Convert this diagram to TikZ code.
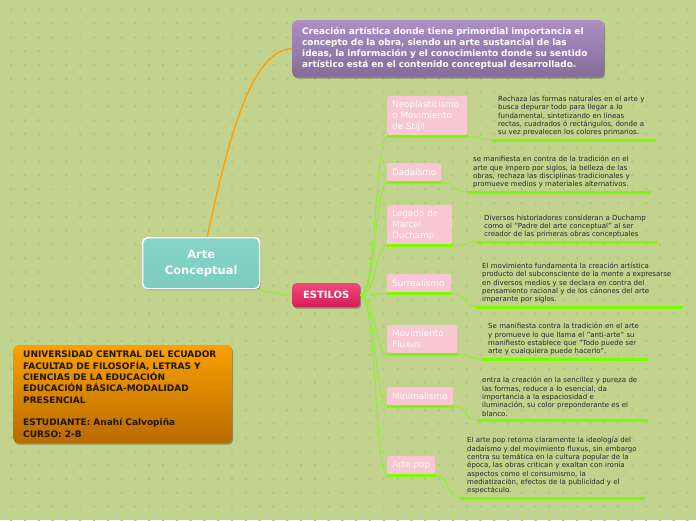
\documentclass[tikz,border=0pt]{standalone}
\usepackage{fontspec}
\setmainfont{DejaVu Sans}
\usetikzlibrary{shadows}
\definecolor{bg}{RGB}{194,211,142}
\definecolor{dotc}{RGB}{178,197,126}
\definecolor{pinkbox}{RGB}{249,198,211}
\definecolor{linegreen}{RGB}{124,250,0}
\definecolor{conngreen}{RGB}{140,240,50}
\definecolor{desctext}{RGB}{40,40,40}
\definecolor{purtop}{RGB}{172,143,198}
\definecolor{purbot}{RGB}{132,108,152}
\definecolor{esttop}{RGB}{238,74,124}
\definecolor{estbot}{RGB}{212,28,88}
\definecolor{teal}{RGB}{124,204,192}
\definecolor{tealtop}{RGB}{132,212,200}
\definecolor{ortop}{RGB}{250,160,0}
\definecolor{orbot}{RGB}{184,106,0}
\definecolor{orline}{RGB}{255,160,0}
\definecolor{ortext}{RGB}{30,20,0}
\begin{document}
\begin{tikzpicture}[x=1pt,y=-1pt,
  shadowed/.style={drop shadow={shadow xshift=1pt,shadow yshift=-1.5pt,opacity=0.3,fill=black}},
  stylebox/.style={fill=pinkbox,text=white,font=\fontsize{8.8}{11}\selectfont,align=left,anchor=north west,inner xsep=5pt,inner ysep=0pt,rounded corners=1.5pt},
  descbox/.style={text=desctext,font=\fontsize{7}{8.3}\selectfont,align=left,anchor=south west,inner ysep=3.6pt},
  uline/.style={draw=linegreen,line width=3pt},
  conn/.style={draw=conngreen,line width=0.9pt}]
\fill[bg] (0,0) rectangle (696,520);
\useasboundingbox (0,0) rectangle (696,520);
\foreach \i in {0,...,50}{\foreach \j in {0,...,37}{\fill[dotc] (11.2+\i*13.8,9.8+\j*13.8) circle (1.3pt);}}

% main boxes
\node[shadowed,anchor=north west,minimum height=57pt,text width=292pt,inner xsep=10pt,inner ysep=0pt,
  rounded corners=5pt,top color=purtop,bottom color=purbot,text=white,align=left,
  font=\bfseries\fontsize{8.9}{11}\selectfont] (pur) at (292,20)
  {Creación artística donde tiene primordial importancia el\\concepto de la obra, siendo un arte sustancial de las\\ideas, la información y el conocimiento donde su sentido\\artístico está en el contenido conceptual desarrollado.};

\node[shadowed,anchor=north west,minimum width=117pt,minimum height=51pt,inner sep=0pt,
  rounded corners=5pt,top color=tealtop,bottom color=teal,draw=white,line width=1.4pt,text=white,align=center,
  font=\bfseries\fontsize{11.5}{16}\selectfont] (ac) at (142,237) {Arte\\Conceptual};

\node[shadowed,anchor=north west,minimum width=68pt,minimum height=24pt,inner sep=0pt,
  rounded corners=4pt,top color=esttop,bottom color=estbot,text=white,
  font=\bfseries\fontsize{10}{12}\selectfont] (est) at (292,283) {ESTILOS};

\node[shadowed,anchor=north west,minimum height=98pt,text width=199pt,inner xsep=10pt,inner ysep=0pt,
  rounded corners=5pt,top color=ortop,bottom color=orbot,text=ortext,align=left,
  font=\bfseries\fontsize{9}{11.3}\selectfont] (uce) at (13,345)
  {UNIVERSIDAD CENTRAL DEL ECUADOR\\FACULTAD DE FILOSOFÍA, LETRAS Y\\CIENCIAS DE LA EDUCACIÓN\\EDUCACIÓN BÁSICA-MODALIDAD\\PRESENCIAL\\[11.3pt]ESTUDIANTE: Anahí Calvopiña\\CURSO: 2-B};

% main connectors
\draw[orline,line width=1.4pt] ([xshift=6pt]ac.north) .. controls (232,120) and (255,50) .. (pur.west);
\draw[conn] ([xshift=-4pt]ac.south east) .. controls (272,292) and (280,295) .. (est.west);

% style nodes
\node[stylebox,text width=70pt,minimum height=39pt] (s1) at (387,96) {Neoplasticismo\\o Movimiento\\de Stijil};
\node[stylebox,text width=44pt,minimum height=18pt] (s2) at (387,163) {Dadaísmo};
\node[stylebox,text width=55pt,minimum height=39pt] (s3) at (387,205) {Legado de\\Marcel\\Duchamp};
\node[stylebox,text width=54pt,minimum height=18pt] (s4) at (387,274) {Surrealismo};
\node[stylebox,text width=60pt,minimum height=28pt] (s5) at (387,325) {Movimiento\\Fluxus};
\node[stylebox,text width=56pt,minimum height=18pt] (s6) at (387,387) {Minimalismo};
\node[stylebox,text width=38pt,minimum height=18pt] (s7) at (387,456) {Arte pop};

\foreach \s in {s1,s2,s3,s4,s5,s6,s7}{
  \coordinate (\s l) at ([yshift=-1.2pt]\s.south west);
  \coordinate (\s r) at ([yshift=-1.2pt,xshift=1pt]\s.south east);
  \draw[uline] (\s l) -- (\s r);
  \draw[conn] (est.east) .. controls +(16,0) and ([xshift=-12pt]\s l) .. (\s l);
}

% descriptions
\node[descbox,inner xsep=6pt,text width=152pt] (d1) at (492,140)
  {Rechaza las formas naturales en el arte y\\busca depurar todo para llegar a lo\\fundamental, sintetizando en líneas\\rectas, cuadrados ó rectángulos, donde a\\su vez prevalecen los colores primarios.};
\node[descbox,inner xsep=6pt,text width=172pt] (d2) at (467,192)
  {se manifiesta en contra de la tradición en el\\arte que impero por siglos, la belleza de las\\obras, rechaza las disciplinas tradicionales y\\promueve medios y materiales alternativos.};
\node[descbox,inner xsep=7pt,text width=166pt] (d3) at (477,242)
  {Diversos historiadores consideran a Duchamp\\como el "Padre del arte conceptual" al ser\\creador de las primeras obras conceptuales};
\node[descbox,inner xsep=6pt,text width=195pt] (d4) at (476,307)
  {El movimiento fundamenta la creación artística\\producto del subconsciente de la mente a expresarse\\en diversos medios y se declara en contra del\\pensamiento racional y de los cánones del arte\\imperante por siglos.};
\node[descbox,inner xsep=7pt,text width=153pt] (d5) at (481,359)
  {Se manifiesta contra la tradición en el arte\\y promueve lo que llama el "anti-arte" su\\manifiesto establece que "Todo puede ser\\arte y cualquiera puede hacerlo".};
\node[descbox,inner xsep=5pt,text width=161pt] (d6) at (477,420)
  {entra la creación en la sencillez y pureza de\\las formas, reduce a lo esencial, da\\importancia a la espaciosidad e\\iluminación, su color preponderante es el\\blanco.};
\node[descbox,inner xsep=7pt,text width=171pt] (d7) at (460,498)
  {El arte pop retoma claramente la ideología del\\dadaísmo y del movimiento fluxus, sin embargo\\centra su temática en la cultura popular de la\\época, las obras critican y exaltan con ironía\\aspectos como el consumismo, la\\mediatización, efectos de la publicidad y el\\espectáculo.};

\foreach \n in {1,...,7}{
  \draw[uline] (d\n.south west) -- (d\n.south east);
  \draw[conn] (s\n r) .. controls +(14,0) and +(-14,0) .. (d\n.south west);
}
\end{tikzpicture}
\end{document}
